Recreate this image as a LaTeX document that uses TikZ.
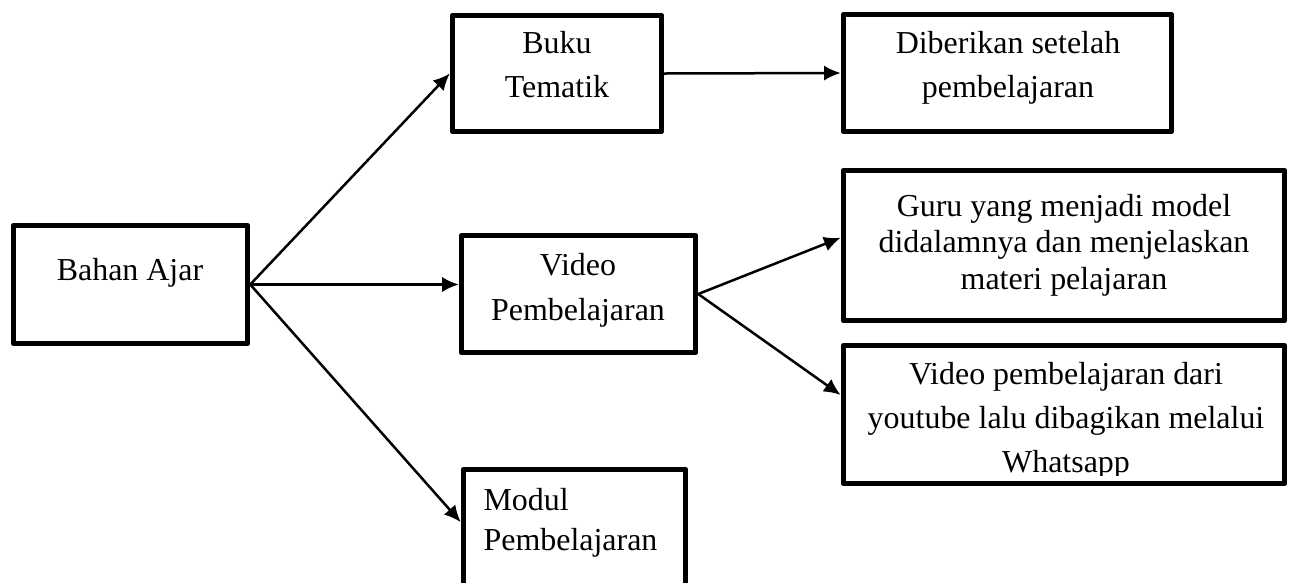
\documentclass[tikz,border=0pt]{standalone}
\usepackage{fontspec}
\setmainfont{Liberation Serif}
\usetikzlibrary{arrows.meta}
\begin{document}
\begin{tikzpicture}[x=0.36pt,y=-0.36pt,
    box/.style={draw,line width=2pt,line join=round,inner sep=0pt},
    txt/.style={inner sep=0pt,anchor=base,align=center},
    arr/.style={line width=0.9pt,-{Latex[length=6pt,width=5.5pt]}}]
  \clip (0,0) rectangle (1289,582);

  % kotak
  \node[box,minimum width=84.2pt,minimum height=42.5pt] (bahan) at (130.5,284.5) {};
  \node[box,minimum width=75.2pt,minimum height=41.8pt] (buku) at (557,73.5) {};
  \node[box,minimum width=118.1pt,minimum height=42.1pt] (diberi) at (1007.5,73) {};
  \node[box,minimum width=84.2pt,minimum height=42.1pt] (video) at (578.5,294) {};
  \node[box,minimum width=158.8pt,minimum height=54pt] (guru) at (1064,245.5) {};
  \node[box,minimum width=158.8pt,minimum height=49.7pt] (yt) at (1064,414.5) {};
  \node[box,minimum width=79.9pt,minimum height=61.4pt] (modul) at (574.5,554.75) {};

  % teks (titik = garis dasar baris terakhir)
  \node[txt,font=\fontsize{11.5}{15.8}\selectfont] (tbahan) at (130,280) {Bahan Ajar};
  \node[txt,font=\fontsize{11.5}{15.8}\selectfont] (tbuku) at (557,97) {Buku\\Tematik};
  \node[txt,font=\fontsize{11.5}{15.8}\selectfont] (tdiberi) at (1008,97) {Diberikan setelah\\pembelajaran};
  \node[txt,font=\fontsize{11.5}{16.2}\selectfont] (tvideo) at (578,320) {Video\\Pembelajaran};
  \node[txt,font=\fontsize{11.5}{13}\selectfont] (tguru) at (1064,289) {Guru yang menjadi model\\didalamnya dan menjelaskan\\materi pelajaran};
  \begin{scope}
    \clip (843.5,345.5) rectangle (1284.5,475);
    \node[txt,font=\fontsize{11.5}{15.8}\selectfont] (tyt) at (1066,472) {Video pembelajaran dari\\youtube lalu dibagikan melalui\\Whatsapp};
  \end{scope}
  \node[txt,anchor=base west,align=left,font=\fontsize{11.5}{14.4}\selectfont] (tmodul) at (483,550) {Modul\\Pembelajaran};

  % panah
  \draw[arr] (bahan.east) -- (buku.west);
  \draw[arr] (bahan.east) -- (video.west |- bahan.east);
  \draw[arr] (bahan.east) -- (modul.164);
  \draw[arr] (buku.east) -- (diberi.west);
  \draw[arr] (video.east) -- (guru.178);
  \draw[arr] (video.east) -- (yt.175);
\end{tikzpicture}
\end{document}
